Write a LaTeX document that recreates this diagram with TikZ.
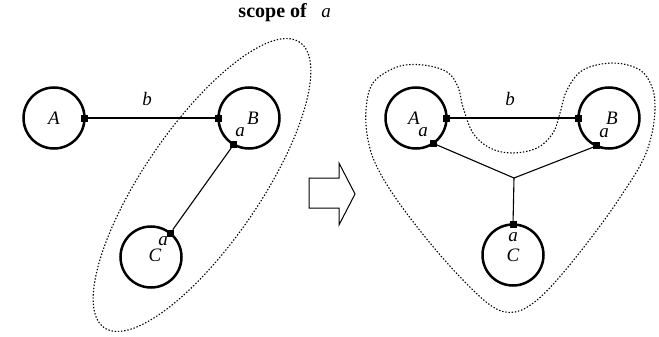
\documentclass[tikz,border=0pt]{standalone}
\usepackage{fontspec}
\setmainfont{Liberation Serif}
\begin{document}
\begin{tikzpicture}[x=1pt,y=-1pt,
  state/.style={circle, draw, line width=2.5pt, minimum size=61pt, inner sep=0pt, outer sep=0pt},
  port/.style={fill, rectangle, minimum size=7pt, inner sep=0pt},
  wire/.style={line width=1.1pt},
  scopeline/.style={line width=1.1pt, dash pattern=on 1.4pt off 1.8pt},
  lab/.style={font=\fontsize{19}{19}\selectfont\itshape, inner sep=0pt},
  blockarrow/.style={line width=1pt, line join=miter}]
\useasboundingbox (0,0) rectangle (659,337);

% title
\node[font=\fontsize{20}{20}\selectfont\bfseries, anchor=base east, inner sep=0pt] (title) at (307,18) {scope of};
\node[lab, anchor=base] (titlevar) at (326,18) {a};

% ---- before: local scope of a ----
\node[state] (A1) at (54,118) {};
\node[state] (B1) at (249,118) {};
\node[state] (C1) at (151,257) {};
\node[port] (pA1) at (A1.0) {};
\node[port] (pB1) at (B1.180) {};
\node[port] (pB1a) at (B1.-120) {};
\node[port] (pC1) at (C1.51) {};
\draw[wire] (pA1) -- (pB1);
\draw[wire] (pB1a) -- (pC1);
\node[lab] (lA1) at (54,118) {A};
\node[lab] (lB1) at (253,118) {B};
\node[lab] (lC1) at (155,255) {C};
\node[lab] (lb1) at (147,99) {b};
\node[lab] (laB1) at (240,132) {a};
\node[lab] (laC1) at (163,241) {a};
\draw[scopeline, rotate around={55.6:(202,185)}] (202,185) ellipse [x radius=173pt, y radius=58pt];

% ---- transformation arrow ----
\draw[blockarrow] (309,178) -- (339,178) -- (339,163) -- (355,194) -- (339,225) -- (339,208) -- (309,208) -- cycle;

% ---- after: scope of a extended ----
\node[state] (A2) at (416,118) {};
\node[state] (B2) at (609,118) {};
\node[state] (C2) at (513,255) {};
\node[port] (pA2) at (A2.0) {};
\node[port] (pA2a) at (A2.-56) {};
\node[port] (pB2) at (B2.180) {};
\node[port] (pB2a) at (B2.-114) {};
\node[port] (pC2) at (C2.90) {};
\coordinate (J) at (514,178);
\draw[wire] (pA2) -- (pB2);
\draw[wire] (pA2a) -- (J);
\draw[wire] (pB2a) -- (J);
\draw[wire] (J) -- (pC2);
\node[lab] (lA2) at (414,118) {A};
\node[lab] (lB2) at (612,118) {B};
\node[lab] (lC2) at (513,255) {C};
\node[lab] (lb2) at (510,99) {b};
\node[lab] (laA2) at (423,132) {a};
\node[lab] (laB2) at (604,133) {a};
\node[lab] (laC2) at (513,237) {a};
\draw[scopeline] plot[smooth cycle, tension=0.6] coordinates {
  (366,110) (373,83) (397,67) (423,65) (447,72) (458,87) (463,107) (473,133)
  (490,148) (512,153) (537,148) (553,133) (560,113) (567,90) (583,70) (613,63)
  (640,70) (652,87) (655,107) (652,133) (643,160) (623,193) (597,230) (563,273)
  (537,300) (515,312) (493,307) (463,280) (430,243) (397,200) (377,167) (368,140)};
\end{tikzpicture}
\end{document}
